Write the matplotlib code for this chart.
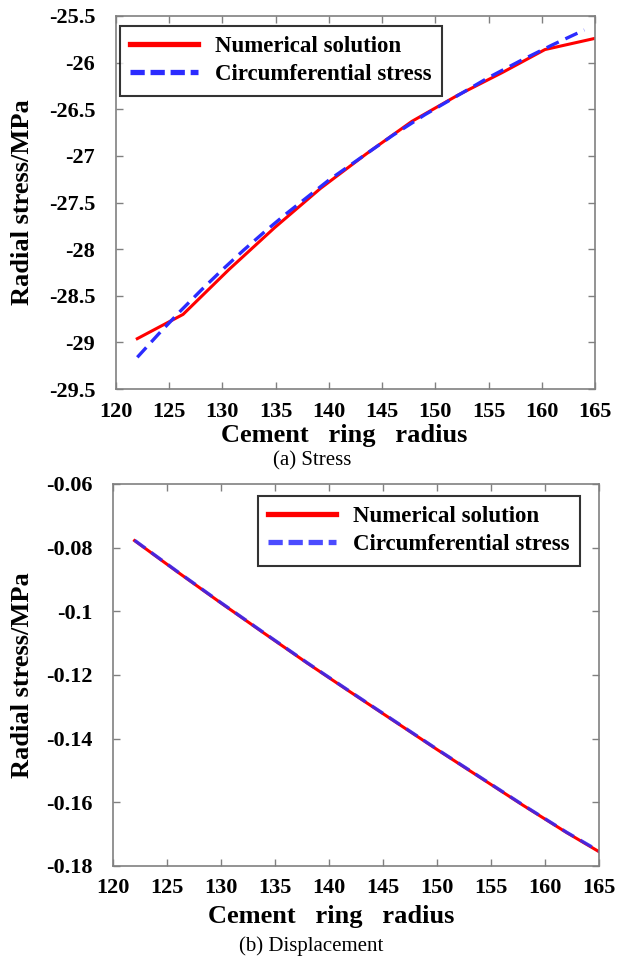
import matplotlib
matplotlib.use("Agg")
import matplotlib.pyplot as plt

plt.rcParams['font.family'] = ['Liberation Serif', 'DejaVu Serif']

# (a) stress
r_num = [122, 126.3, 130.6, 134.9, 139.2, 143.5, 147.8, 152.1, 156.4, 160.3, 165]
s_num = [-28.96, -28.70, -28.22, -27.77, -27.35, -26.98, -26.63, -26.35, -26.10, -25.86, -25.74]
r_ana = [122, 124, 126, 128, 130, 132, 134, 136, 138, 140, 143, 146, 149, 152, 155, 158, 161, 164.0]
s_ana = [-29.16, -28.91, -28.67, -28.44, -28.22, -28.01, -27.81, -27.62, -27.44, -27.26,
         -27.02, -26.78, -26.56, -26.36, -26.16, -25.98, -25.81, -25.65]

# (b) displacement
r_disp = [122, 126, 130, 134, 138, 142, 146, 150, 154, 158, 162, 165]
u_num = [-0.0778, -0.0877, -0.0974, -0.1069, -0.1163, -0.1254, -0.1344, -0.1434,
         -0.1522, -0.1610, -0.1695, -0.1755]
u_ana = [-0.0777, -0.0876, -0.0973, -0.1068, -0.1162, -0.1253, -0.1343, -0.1433,
         -0.1521, -0.1609, -0.1694, -0.1753]

xticks = [120, 125, 130, 135, 140, 145, 150, 155, 160, 165]
yticks_a = [-29.5, -29, -28.5, -28, -27.5, -27, -26.5, -26, -25.5]
yticks_b = [-0.18, -0.16, -0.14, -0.12, -0.1, -0.08, -0.06]

red = '#ff0000'
blue = '#2b2bff'

fig = plt.figure(figsize=(6.17, 9.57), dpi=100)


def style(ax, xlab_pos, ylab_x):
    for sp in ax.spines.values():
        sp.set_color('#808080')
        sp.set_linewidth(1.2)
    ax.tick_params(direction='in', length=5, width=1, color='#808080',
                   top=True, right=True, labelsize=16)
    ax.tick_params(axis='y', pad=15)
    ax.tick_params(axis='x', pad=9)
    for lab in ax.get_xticklabels() + ax.get_yticklabels():
        lab.set_fontweight('bold')
    ax.set_xlabel('Cement   ring   radius', fontsize=19, fontweight='bold')
    ax.set_ylabel('Radial stress/MPa', fontsize=19, fontweight='bold')
    ax.xaxis.set_label_coords(*xlab_pos)
    ax.yaxis.set_label_coords(ylab_x, 0.5)


def legend(ax, loc, anchor):
    leg = ax.legend(loc=loc, bbox_to_anchor=anchor, borderaxespad=0,
                    prop={'weight': 'bold', 'size': 16.5}, fancybox=False,
                    edgecolor='black', handlelength=2.95, handletextpad=0.75,
                    borderpad=0.45, labelspacing=0.3)
    leg.get_frame().set_linewidth(1.5)
    hl = leg.get_lines()
    hl[0].set_linewidth(3.8)
    hl[1].set_linewidth(3.8)
    hl[1].set_linestyle((0, (2.7, 1.1)))
    return leg


ax1 = fig.add_axes([0.188, 0.5935, 0.7763, 0.3898])
ax1.plot(r_num, s_num, color=red, lw=2.2, label='Numerical solution')
ax1.plot(r_ana, s_ana, color=blue, lw=2.4, ls=(0, (4, 2.2)), label='Circumferential stress')
ax1.set_xlim(120, 165)
ax1.set_ylim(-29.5, -25.5)
ax1.set_xticks(xticks)
ax1.set_yticks(yticks_a)
ax1.set_yticklabels([f'{v:g}' for v in yticks_a])
style(ax1, (0.476, -0.094), -0.171)
legend(ax1, 'upper left', (0.0084, 0.973))

ax2 = fig.add_axes([0.1831, 0.0951, 0.7877, 0.3992])
ax2.plot(r_disp, u_num, color=red, lw=2.2, label='Numerical solution')
ax2.plot(r_disp, u_ana, color=blue, lw=2.4, ls=(0, (4, 2.2)), alpha=0.85,
         label='Circumferential stress')
ax2.set_xlim(120, 165)
ax2.set_ylim(-0.18, -0.06)
ax2.set_xticks(xticks)
ax2.set_yticks(yticks_b)
ax2.set_yticklabels([f'{v:g}' for v in yticks_b])
style(ax2, (0.45, -0.102), -0.162)
legend(ax2, 'upper right', (0.961, 0.9686))

fig.text(312 / 617, 1 - 461 / 957, '(a) Stress', ha='center', va='center', fontsize=15)
fig.text(311 / 617, 1 - 946 / 957, '(b) Displacement', ha='center', va='center', fontsize=15)

fig.savefig('out.png', dpi=100)
